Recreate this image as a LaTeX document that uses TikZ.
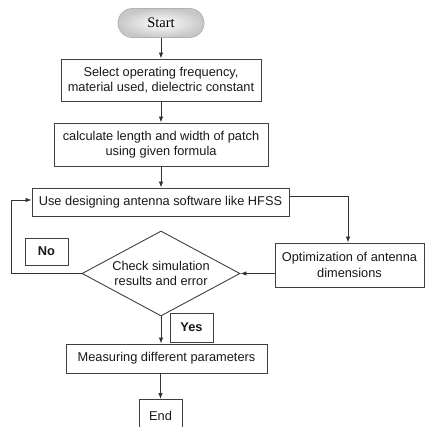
\documentclass[tikz,border=0pt]{standalone}
\usepackage{fontspec}
\setmainfont{Liberation Sans}
\newfontfamily\serifA{Liberation Serif}
\usetikzlibrary{shapes.geometric,arrows.meta}
\begin{document}
\begin{tikzpicture}[x=1pt,y=-1pt,
  box/.style={draw=black!75, line width=0.9pt, inner sep=0pt, align=center,
    font=\fontsize{12.8}{15.5}\selectfont, text=black!90},
  arr/.style={-{Latex[length=6pt,width=4.5pt]}, line width=0.8pt, draw=black!80},
  lbl/.style={draw=black!75, line width=0.9pt, inner sep=0pt,
    font=\bfseries\fontsize{12.8}{14}\selectfont, text=black!90}]
\useasboundingbox (0,0) rectangle (425,427);
\node[draw=black!30, line width=0.8pt, rounded corners=14.5pt, minimum width=86pt, minimum height=29pt,
  inner sep=0pt, inner color=white, outer color=black!22, shading=radial,
  font=\serifA\fontsize{14.5}{16}\selectfont] (start) at (161,23) {Start};
\node[box, minimum width=200pt, minimum height=42pt] (box1) at (161,80)
  {Select operating frequency,\\material used, dielectric constant};
\node[box, minimum width=214pt, minimum height=43pt] (box2) at (161,144.5)
  {calculate length and width of patch\\using given formula};
\node[box, minimum width=257pt, minimum height=28pt] (box3) at (160.5,202)
  {Use designing antenna software like HFSS};
\node[box, minimum width=149pt, minimum height=44pt] (opt) at (349.5,265)
  {Optimization of antenna\\dimensions};
\node[box, shape=diamond, aspect=1.86, minimum width=158pt, minimum height=85pt] (dia) at (161,273.5)
  {Check simulation\\results and error};
\node[lbl, minimum width=43pt, minimum height=27pt] (no) at (46.5,251.5) {No};
\node[lbl, minimum width=43pt, minimum height=29pt] (yes) at (191.5,327.5) {Yes};
\node[box, minimum width=201pt, minimum height=29pt] (meas) at (166.5,358.5)
  {Measuring different parameters};
\node[box, minimum width=43pt, minimum height=38pt, anchor=north] (end) at (160.5,399) {\raisebox{5pt}{End}};
\draw[arr] (start.south) -- (start.south |- box1.north);
\draw[arr] (box1.south) -- (box1.south |- box2.north);
\draw[arr] (box2.south) -- (box2.south |- box3.north);
\draw[arr] ([yshift=6pt]box3.east) -| ([xshift=-1.5pt]opt.north);
\draw[arr] (opt.west |- dia.east) -- (dia.east);
\draw[arr] (dia.west) -- ++(-70,0) |- ([yshift=2pt]box3.west);
\draw[arr] (dia.south) -- (dia.south |- meas.north);
\draw[arr] (meas.south -| end.north) -- (end.north);
\end{tikzpicture}
\end{document}
